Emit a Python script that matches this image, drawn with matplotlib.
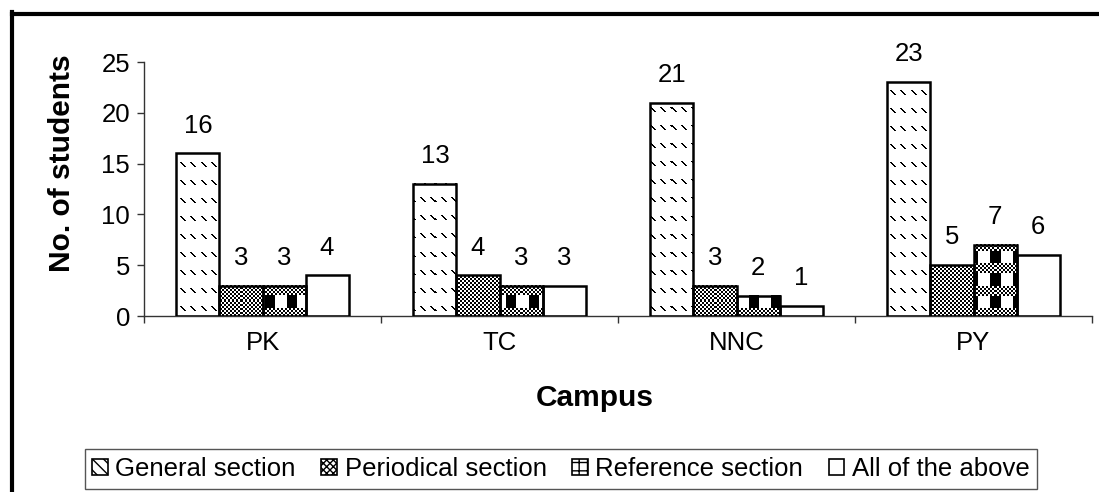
import numpy as np
import matplotlib
matplotlib.use("Agg")
import matplotlib.pyplot as plt
from matplotlib.patches import Patch
from matplotlib.lines import Line2D

# ---- data -------------------------------------------------------------
campuses = ["PK", "TC", "NNC", "PY"]
series_names = ["General section", "Periodical section",
                "Reference section", "All of the above"]
general = [16, 13, 21, 23]
periodical = [3, 4, 3, 5]
reference = [3, 3, 2, 7]
all_above = [4, 3, 1, 6]
y_ticks = [0, 5, 10, 15, 20, 25]

# ---- figure setup -----------------------------------------------------
W, H, DPI = 1099, 492, 100
plt.rcParams["font.family"] = ["Liberation Sans", "DejaVu Sans"]
plt.rcParams["hatch.color"] = "black"
plt.rcParams["hatch.linewidth"] = 1.0

TEXT_SIZE = 18.5
TITLE_SIZE = 21.5

fig = plt.figure(figsize=(W / DPI, H / DPI), dpi=DPI)
fig.patch.set_facecolor("white")
ax = fig.add_axes([144 / W, 1 - 316 / H, (1092 - 144) / W, (316 - 62) / H])


# ---- fill patterns (pixel based, True = black) -------------------------
def pat_general(X, Y):
    u = X % 10
    v = Y % 18
    d = u - v
    return ((d == 0) | (d == 1)) & (v < 5)


def pat_checker(X, Y):
    return ((X // 2 + Y // 2) % 2) == 0


def pat_reference(X, Y):
    band = (Y % 22) < 10
    stripe = (X % 22) < 10
    return np.where(band, pat_checker(X, Y), stripe)


def pat_blank(X, Y):
    return np.zeros_like(X, dtype=bool)


patterns = [pat_general, pat_checker, pat_reference, pat_blank]
legend_hatches = ["\\\\\\", "xxxxx", "++", ""]

# ---- bars ---------------------------------------------------------------
series = [general, periodical, reference, all_above]
n = len(series)
group_width = 0.726
bw = group_width / n
x = np.arange(len(campuses))

containers = []
for i, vals in enumerate(series):
    bars = ax.bar(x + (i - (n - 1) / 2) * bw, vals, width=bw,
                  facecolor="none", edgecolor="black", linewidth=1.8,
                  zorder=3)
    containers.append(bars)
    for rect, v in zip(bars, vals):
        ax.annotate(str(v), (rect.get_x() + rect.get_width() / 2, v),
                    xytext=(0, 15), textcoords="offset points",
                    ha="center", va="baseline", fontsize=TEXT_SIZE,
                    zorder=4)

ax.set_xlim(-0.5, len(campuses) - 0.5)
ax.set_ylim(0, 25)

# ---- axes styling -------------------------------------------------------
for side in ("top", "right"):
    ax.spines[side].set_visible(False)
for side in ("left", "bottom"):
    ax.spines[side].set_color("#333333")
    ax.spines[side].set_linewidth(1.0)

ax.set_yticks(y_ticks)
ax.set_yticklabels([str(t) for t in y_ticks])
ax.tick_params(axis="y", direction="out", length=5, width=1,
               color="#333333", labelsize=TEXT_SIZE, pad=5)

ax.set_xticks(np.arange(len(campuses) + 1) - 0.5)
ax.set_xticklabels([])
ax.tick_params(axis="x", which="major", direction="out", length=5,
               width=1, color="#333333")
ax.set_xticks(x, minor=True)
ax.set_xticklabels(campuses, minor=True)
ax.tick_params(axis="x", which="minor", length=0, labelsize=TEXT_SIZE,
               pad=11)

# ---- pattern textures inside the bars ------------------------------------
fig.canvas.draw()
renderer = fig.canvas.get_renderer()
for bars, pat in zip(containers, patterns):
    if pat is pat_blank:
        continue
    for rect in bars:
        bb = rect.get_window_extent(renderer)
        x0, x1 = int(round(bb.x0)), int(round(bb.x1))
        y0, y1 = int(round(bb.y0)), int(round(bb.y1))
        w, h = max(x1 - x0, 1), max(y1 - y0, 1)
        X, Y = np.meshgrid(np.arange(x0, x0 + w), (H - y1) + np.arange(h))
        img = np.where(pat(X, Y), 0.0, 1.0)
        ax.imshow(img, cmap="gray", vmin=0, vmax=1,
                  extent=(rect.get_x(), rect.get_x() + rect.get_width(),
                          0, rect.get_height()),
                  interpolation="nearest", aspect="auto", zorder=2)

ax.set_xlim(-0.5, len(campuses) - 0.5)
ax.set_ylim(0, 25)

# ---- axis titles ----------------------------------------------------------
fig.text(62 / W, 1 - 163 / H, "No. of students", rotation=90,
         ha="center", va="center", fontsize=TITLE_SIZE, fontweight="bold")
fig.text(595 / W, 1 - 398 / H, "Campus", ha="center", va="center",
         fontsize=TITLE_SIZE, fontweight="bold")

# ---- legend -----------------------------------------------------------------
handles = [Patch(facecolor="white", edgecolor="black", hatch=h, linewidth=1.2)
           for h in legend_hatches]
leg = fig.legend(handles, series_names, loc="center",
                 bbox_to_anchor=(561 / W, 1 - 469 / H), ncol=4,
                 frameon=True, fancybox=False, fontsize=TEXT_SIZE,
                 handlelength=0.6, handleheight=0.6, handletextpad=0.3,
                 columnspacing=1.0, borderpad=0.3, borderaxespad=0)
leg.get_frame().set_edgecolor("#555555")
leg.get_frame().set_linewidth(1.0)
leg.get_frame().set_alpha(1)

# ---- outer frame (left and top edges) ----------------------------------------
fig.add_artist(Line2D([12 / W, 12 / W], [0, 1 - 12 / H],
                      transform=fig.transFigure, color="black",
                      linewidth=3, solid_capstyle="projecting"))
fig.add_artist(Line2D([12 / W, 1], [1 - 14 / H, 1 - 14 / H],
                      transform=fig.transFigure, color="black",
                      linewidth=3, solid_capstyle="projecting"))

fig.savefig("out.png", dpi=DPI)
